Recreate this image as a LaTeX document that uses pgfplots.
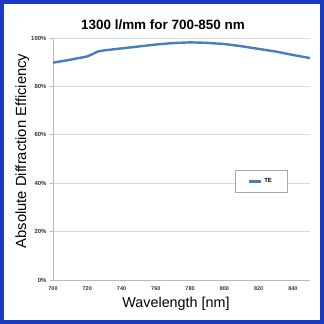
\documentclass[border=0pt]{standalone}
\usepackage{fontspec}
\setmainfont{Liberation Sans}
\usepackage{pgfplots}
\pgfplotsset{compat=1.18}
\definecolor{frameblue}{RGB}{28,58,200}
\definecolor{lineblue}{RGB}{74,126,187}
\begin{document}
\begin{tikzpicture}[x=1bp,y=1bp]
\draw[frameblue, line width=4bp] (2,2) rectangle (322,322);
\begin{axis}[
 at={(53bp,44bp)}, anchor=south west,
 scale only axis, width=257bp, height=242bp,
 xmin=700, xmax=850, ymin=0, ymax=100,
 axis lines*=left,
 axis line style={draw=gray!55, line width=0.8bp},
 xtick={700,720,...,840}, ytick={0,20,...,100},
 ymajorgrids, grid style={draw=gray!30, line width=0.6bp},
 x tick style={draw=none}, y tick style={draw=gray!55, line width=0.6bp},
 tick align=outside, major tick length=3bp,
 yticklabel={\pgfmathprintnumber{\tick}\%},
 tick label style={font=\bfseries\fontsize{6}{7}\selectfont, text=black!80},
 xticklabel style={/pgf/number format/1000 sep={}, font=\bfseries\fontsize{5.5}{6}\selectfont},
 /pgf/number format/assume math mode=true,
 legend style={at={(0.809,0.4075)}, anchor=center, draw=gray!70, fill=white,
   font=\bfseries\fontsize{6}{7}\selectfont, inner xsep=13bp, inner ysep=6bp},
 legend image code/.code={\draw[#1] (0bp,0bp) -- (12bp,0bp);},
]
\addplot[lineblue, line width=2.4bp] coordinates {
(700,89.8) (710,91.0) (720,92.4) (723,93.3) (726,94.4) (730,94.9) (740,95.7)
(750,96.5) (760,97.3) (770,97.9) (780,98.2) (790,98.0) (800,97.5) (810,96.6)
(820,95.5) (830,94.4) (840,93.0) (850,91.7)};
\addlegendentry{TE}
\end{axis}
\node[anchor=base, font=\bfseries\fontsize{13.5}{16}\selectfont] at (163,295) {1300 l/mm for 700-850 nm};
\node[anchor=base, font=\fontsize{14.4}{17}\selectfont] at (176,17) {Wavelength [nm]};
\node[anchor=base, rotate=90, font=\fontsize{14.8}{17}\selectfont] at (26,173) {Absolute Diffraction Efficiency};
\end{tikzpicture}
\end{document}
